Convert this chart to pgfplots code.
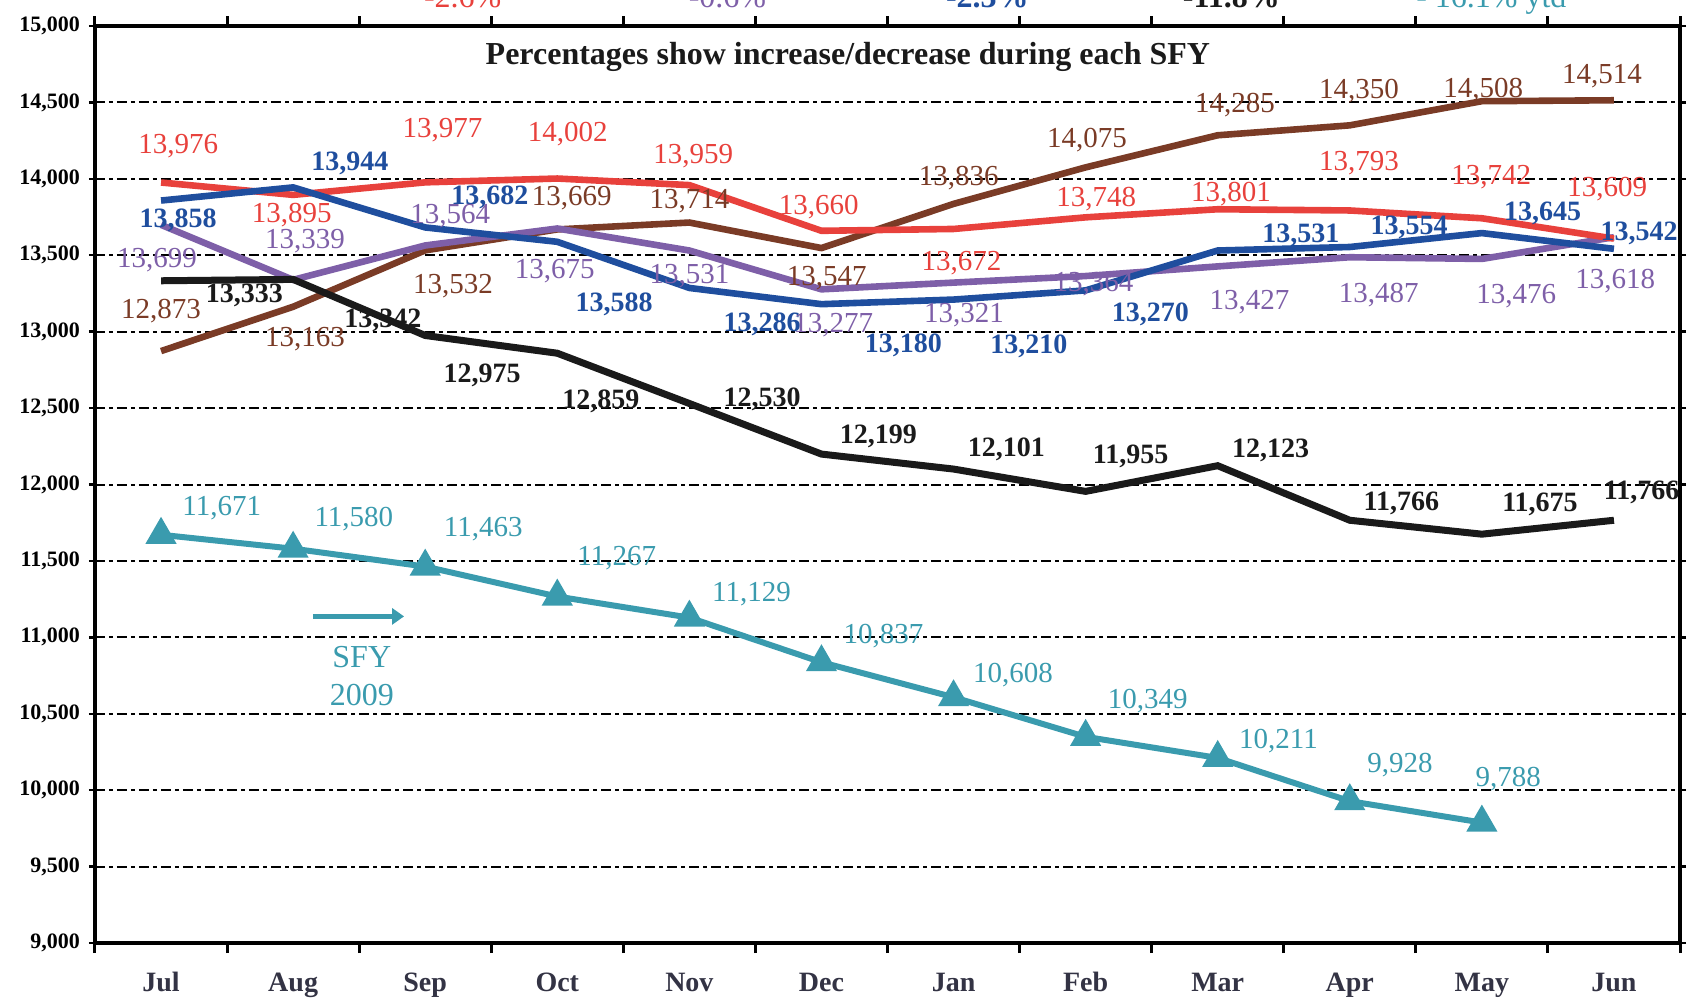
\documentclass[border=0pt]{standalone}
\usepackage{pgfplots}
\pgfplotsset{compat=1.18}
\usetikzlibrary{arrows.meta}
\usepackage{fontspec}
\setmainfont{Liberation Serif}
\definecolor{cred}{HTML}{E8413C}
\definecolor{cblue}{HTML}{1F4E9E}
\definecolor{cpurple}{HTML}{7E5FA8}
\definecolor{cbrown}{HTML}{7A3B26}
\definecolor{cblack}{HTML}{1A1A1A}
\definecolor{cteal}{HTML}{3A9BAE}
\definecolor{ctick}{HTML}{333344}
\newcommand{\lab}[4]{\node[font=\fontsize{14.5}{14.5}\selectfont, text=#4] at (axis cs:#1,#2) {#3};}
\newcommand{\labb}[4]{\node[font=\bfseries\fontsize{14}{14}\selectfont, text=#4] at (axis cs:#1,#2) {#3};}
\begin{document}
\begin{tikzpicture}
\begin{axis}[
  at={(0,0)}, anchor=south west,
  scale only axis, width=792.5pt, height=458.5pt,
  xmin=-0.5, xmax=11.5, ymin=9000, ymax=15000,
  xtick={0,...,11},
  xticklabels={Jul,Aug,Sep,Oct,Nov,Dec,Jan,Feb,Mar,Apr,May,Jun},
  minor xtick={-0.5,0.5,...,11.5},
  major x tick style={draw=none},
  minor x tick style={black, line width=1.5pt},
  minor tick length=5pt,
  tick align=outside,
  ytick={9000,9500,...,15000},
  major tick length=3pt,
  y tick style={black, line width=1.2pt},
  ymajorgrids,
  major grid style={black, line width=1pt, dash pattern=on 5pt off 2pt on 2pt off 2pt},
  axis line style={line width=1.6pt, black},
  yticklabel style={font=\bfseries\fontsize{11}{11}\selectfont, xshift=-1pt},
  xticklabel style={font=\bfseries\fontsize{14}{14}\selectfont, text=ctick, anchor=base, yshift=-21pt},
  /pgf/number format/assume math mode=true,
  /pgf/number format/1000 sep={,},
  scaled y ticks=false,
  clip=false,
]
\addplot[cbrown, line width=3.3pt] coordinates {(0,12873)(1,13163)(2,13532)(3,13669)(4,13714)(5,13547)(6,13836)(7,14075)(8,14285)(9,14350)(10,14508)(11,14514)};
\addplot[cpurple, line width=3.3pt] coordinates {(0,13699)(1,13339)(2,13564)(3,13675)(4,13531)(5,13277)(6,13321)(7,13364)(8,13427)(9,13487)(10,13476)(11,13618)};
\addplot[cred, line width=3.3pt] coordinates {(0,13976)(1,13895)(2,13977)(3,14002)(4,13959)(5,13660)(6,13672)(7,13748)(8,13801)(9,13793)(10,13742)(11,13609)};
\addplot[cblue, line width=3.3pt] coordinates {(0,13858)(1,13944)(2,13682)(3,13588)(4,13286)(5,13180)(6,13210)(7,13270)(8,13531)(9,13554)(10,13645)(11,13542)};
\addplot[cblack, line width=3.5pt] coordinates {(0,13333)(1,13342)(2,12975)(3,12859)(4,12530)(5,12199)(6,12101)(7,11955)(8,12123)(9,11766)(10,11675)(11,11766)};
\addplot[cteal, line width=3pt, mark=triangle*, mark size=6pt] coordinates {(0,11671)(1,11580)(2,11463)(3,11267)(4,11129)(5,10837)(6,10608)(7,10349)(8,10211)(9,9928)(10,9788)};
% red labels
\lab{0.13}{14214}{13,976}{cred}
\lab{0.99}{13760}{13,895}{cred}
\lab{2.13}{14320}{13,977}{cred}
\lab{3.08}{14291}{14,002}{cred}
\lab{4.03}{14150}{13,959}{cred}
\lab{4.98}{13818}{13,660}{cred}
\lab{6.06}{13451}{13,672}{cred}
\lab{7.08}{13868}{13,748}{cred}
\lab{8.10}{13903}{13,801}{cred}
\lab{9.07}{14101}{13,793}{cred}
\lab{10.07}{14009}{13,742}{cred}
\lab{10.95}{13931}{13,609}{cred}
% blue labels
\labb{0.13}{13727}{13,858}{cblue}
\labb{1.43}{14103}{13,944}{cblue}
\labb{2.49}{13878}{13,682}{cblue}
\labb{3.43}{13178}{13,588}{cblue}
\labb{4.55}{13045}{13,286}{cblue}
\labb{5.62}{12911}{13,180}{cblue}
\labb{6.57}{12904}{13,210}{cblue}
\labb{7.49}{13115}{13,270}{cblue}
\labb{8.63}{13631}{13,531}{cblue}
\labb{9.45}{13680}{13,554}{cblue}
\labb{10.46}{13772}{13,645}{cblue}
\labb{11.19}{13643}{13,542}{cblue}
% purple labels
\lab{-0.03}{13465}{13,699}{cpurple}
\lab{1.09}{13590}{13,339}{cpurple}
\lab{2.19}{13756}{13,564}{cpurple}
\lab{2.98}{13394}{13,675}{cpurple}
\lab{4.00}{13366}{13,531}{cpurple}
\lab{5.09}{13042}{13,277}{cpurple}
\lab{6.08}{13106}{13,321}{cpurple}
\lab{7.06}{13310}{13,364}{cpurple}
\lab{8.24}{13191}{13,427}{cpurple}
\lab{9.22}{13240}{13,487}{cpurple}
\lab{10.26}{13234}{13,476}{cpurple}
\lab{11.01}{13331}{13,618}{cpurple}
% brown labels
\lab{0.00}{13133}{12,873}{cbrown}
\lab{1.09}{12950}{13,163}{cbrown}
\lab{2.21}{13297}{13,532}{cbrown}
\lab{3.11}{13875}{13,669}{cbrown}
\lab{4.00}{13853}{13,714}{cbrown}
\lab{5.04}{13352}{13,547}{cbrown}
\lab{6.04}{14008}{13,836}{cbrown}
\lab{7.01}{14255}{14,075}{cbrown}
\lab{8.13}{14482}{14,285}{cbrown}
\lab{9.07}{14574}{14,350}{cbrown}
\lab{10.01}{14580}{14,508}{cbrown}
\lab{10.91}{14671}{14,514}{cbrown}
% black labels
\labb{0.63}{13236}{13,333}{cblack}
\labb{1.68}{13074}{13,342}{cblack}
\labb{2.43}{12712}{12,975}{cblack}
\labb{3.33}{12542}{12,859}{cblack}
\labb{4.55}{12558}{12,530}{cblack}
\labb{5.43}{12317}{12,199}{cblack}
\labb{6.40}{12232}{12,101}{cblack}
\labb{7.34}{12182}{11,955}{cblack}
\labb{8.40}{12225}{12,123}{cblack}
\labb{9.39}{11879}{11,766}{cblack}
\labb{10.44}{11872}{11,675}{cblack}
\labb{11.21}{11949}{11,766}{cblack}
% teal labels
\lab{0.46}{11845}{11,671}{cteal}
\lab{1.46}{11774}{11,580}{cteal}
\lab{2.44}{11710}{11,463}{cteal}
\lab{3.45}{11519}{11,267}{cteal}
\lab{4.47}{11280}{11,129}{cteal}
\lab{5.47}{11005}{10,837}{cteal}
\lab{6.45}{10750}{10,608}{cteal}
\lab{7.47}{10581}{10,349}{cteal}
\lab{8.46}{10320}{10,211}{cteal}
\lab{9.38}{10164}{9,928}{cteal}
\lab{10.20}{10071}{9,788}{cteal}
% annotations
\node[font=\bfseries\fontsize{16}{16}\selectfont, text=cblack] at (axis cs:5.2,14800) {Percentages show increase/decrease during each SFY};
\node[font=\fontsize{16}{16}\selectfont, text=cteal] at (axis cs:1.52,10871) {SFY};
\node[font=\fontsize{16}{16}\selectfont, text=cteal] at (axis cs:1.52,10624) {2009};
\draw[cteal, line width=2.5pt, -{Triangle[length=6pt,width=8pt]}] (axis cs:1.15,11137) -- (axis cs:1.84,11137);
% cut-off percentages above the plot
\node[font=\fontsize{16}{16}\selectfont, text=cred, anchor=base] at ([yshift=9.5pt]rel axis cs:0.232,1) {-2.6\%};
\node[font=\fontsize{16}{16}\selectfont, text=cpurple, anchor=base] at ([yshift=9.5pt]rel axis cs:0.399,1) {-0.6\%};
\node[font=\bfseries\fontsize{16}{16}\selectfont, text=cblue, anchor=base] at ([yshift=9.5pt]rel axis cs:0.563,1) {-2.3\%};
\node[font=\bfseries\fontsize{16}{16}\selectfont, text=cblack, anchor=base] at ([yshift=9.5pt]rel axis cs:0.717,1) {-11.8\%};
\node[font=\fontsize{16}{16}\selectfont, text=cteal, anchor=base] at ([yshift=9.5pt]rel axis cs:0.881,1) {- 16.1\% ytd};
\end{axis}
\pgfresetboundingbox
\path[use as bounding box] (-47.5pt,-29.5pt) rectangle (796.5pt,471.5pt);
\end{tikzpicture}
\end{document}
